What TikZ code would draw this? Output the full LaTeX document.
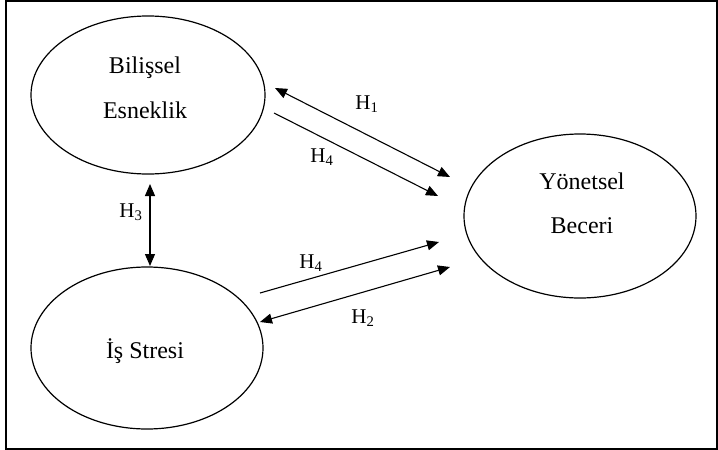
\documentclass[tikz,border=0pt]{standalone}
\usepackage{fontspec}
\setmainfont{Liberation Serif}
\usetikzlibrary{shapes.geometric,arrows.meta}
\begin{document}
\begin{tikzpicture}[x=1pt,y=-1pt,
  construct/.style={draw,line width=1.2pt,ellipse,inner sep=0pt,outer sep=0pt},
  ctext/.style={anchor=base,inner sep=0pt,font=\fontsize{24}{28}\selectfont},
  link/.style={line width=1.1pt,-{Triangle[length=12pt,width=10pt]}},
  dlink/.style={line width=1.1pt,{Triangle[length=12pt,width=10pt]}-{Triangle[length=12pt,width=10pt]}},
  hlabel/.style={font=\fontsize{21}{24}\selectfont,inner sep=0pt}]
\useasboundingbox (0,0) rectangle (718,450);
\draw[line width=2pt] (6,1.2) rectangle (716.8,448.8);
% constructs
\node[construct,minimum width=234pt,minimum height=158pt] (be) at (148,95) {};
\node[construct,minimum width=232pt,minimum height=162pt] (is) at (147,348) {};
\node[construct,minimum width=232pt,minimum height=164pt] (yb) at (580,216) {};
\node[ctext] (be1) at (145,73) {Bilişsel};
\node[ctext] (be2) at (145,118) {Esneklik};
\node[ctext] (is1) at (145,358) {İş Stresi};
\node[ctext] (yb1) at (582,189) {Yönetsel};
\node[ctext] (yb2) at (582,233) {Beceri};
% arrow end points
\coordinate (h1a) at (275,88);
\coordinate (h1b) at (450,177);
\coordinate (h4a) at (274,113);
\coordinate (h4b) at (438,196);
\coordinate (h3a) at (150,184);
\coordinate (h3b) at (150,266);
\coordinate (h5a) at (260,293);
\coordinate (h5b) at (439,242);
\coordinate (h2a) at (260,322);
\coordinate (h2b) at (450,267);
\draw[dlink] (h1a) -- (h1b);
\draw[link] (h4a) -- (h4b);
\draw[dlink] (h3a) -- (h3b);
\draw[link] (h5a) -- (h5b);
\draw[dlink] (h2a) -- (h2b);
% labels
\node[hlabel] (l1) at (367,104) {H\textsubscript{1}};
\node[hlabel] (l4a) at (322,157) {H\textsubscript{4}};
\node[hlabel] (l3) at (131,212) {H\textsubscript{3}};
\node[hlabel] (l4b) at (311,263) {H\textsubscript{4}};
\node[hlabel] (l2) at (363,318) {H\textsubscript{2}};
\end{tikzpicture}
\end{document}
